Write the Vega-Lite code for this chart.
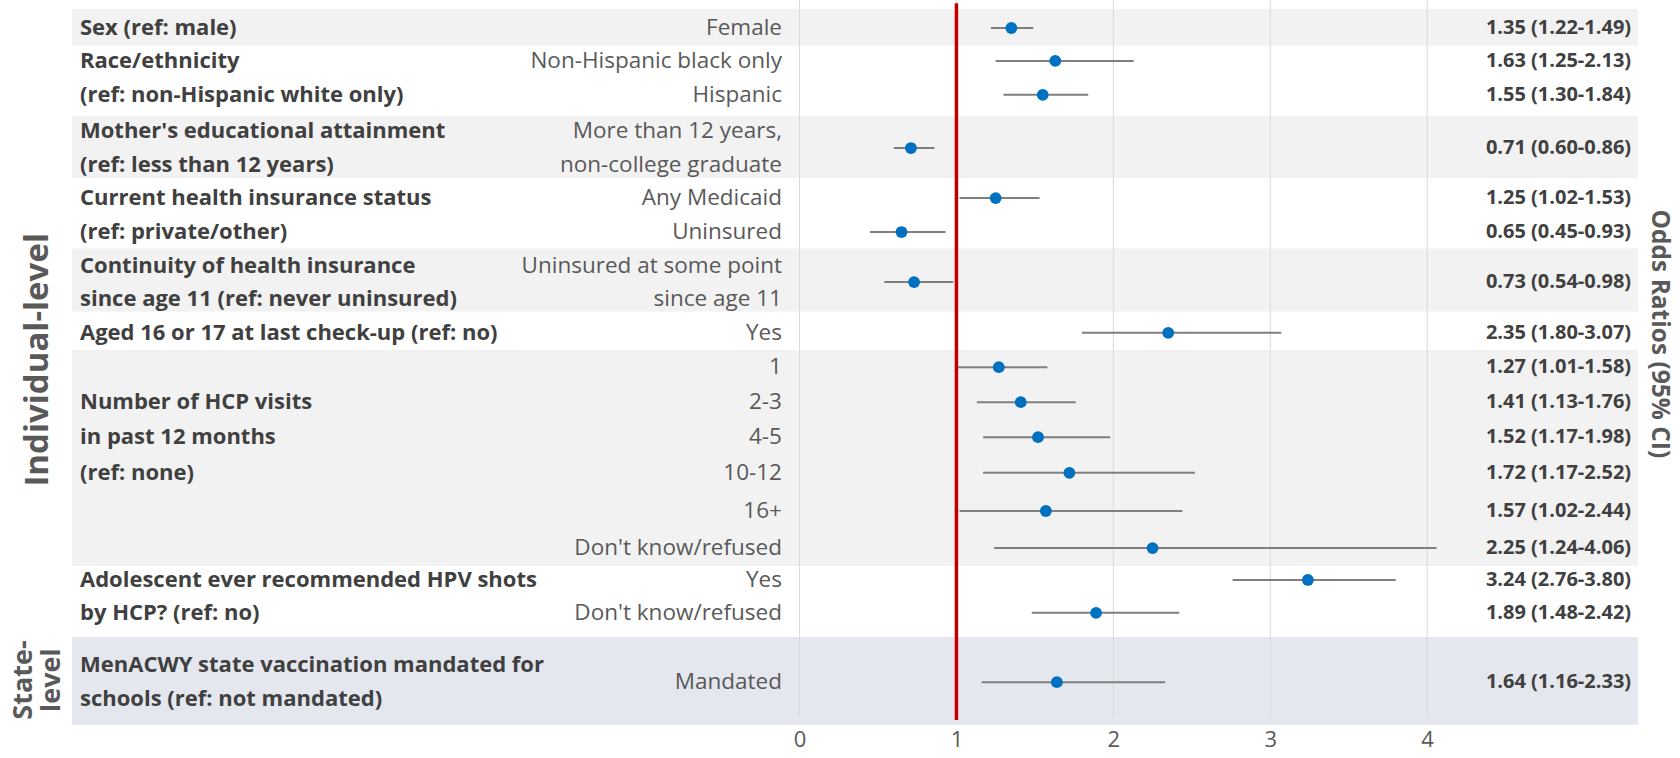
{
  "$schema": "https://vega.github.io/schema/vega-lite/v6.json",
  "width": 1566,
  "height": 725,
  "autosize": {"type": "none"},
  "padding": {"left": 72, "top": 0, "right": 42, "bottom": 33},
  "background": "white",
  "config": {"view": {"stroke": null}, "font": "Open Sans"},
  "datasets": {
    "bands": [
      {"y1": 0.26, "y2": 1.31, "kind": "shaded"},
      {"y1": 1.31, "y2": 3.31, "kind": "plain"},
      {"y1": 3.31, "y2": 5.09, "kind": "shaded"},
      {"y1": 5.09, "y2": 7.09, "kind": "plain"},
      {"y1": 7.09, "y2": 8.91, "kind": "shaded"},
      {"y1": 8.91, "y2": 10.0, "kind": "plain"},
      {"y1": 10.0, "y2": 16.17, "kind": "shaded"},
      {"y1": 16.17, "y2": 18.2, "kind": "plain"},
      {"y1": 18.2, "y2": 20.71, "kind": "state"}
    ],
    "grid": [{"v": 0}, {"v": 1}, {"v": 2}, {"v": 3}, {"v": 4}],
    "items": [
      {"or": 1.35, "lo": 1.22, "hi": 1.49, "row": 0.80, "label": "1.35 (1.22-1.49)"},
      {"or": 1.63, "lo": 1.25, "hi": 2.13, "row": 1.74, "label": "1.63 (1.25-2.13)"},
      {"or": 1.55, "lo": 1.30, "hi": 1.84, "row": 2.71, "label": "1.55 (1.30-1.84)"},
      {"or": 0.71, "lo": 0.60, "hi": 0.86, "row": 4.23, "label": "0.71 (0.60-0.86)"},
      {"or": 1.25, "lo": 1.02, "hi": 1.53, "row": 5.66, "label": "1.25 (1.02-1.53)"},
      {"or": 0.65, "lo": 0.45, "hi": 0.93, "row": 6.63, "label": "0.65 (0.45-0.93)"},
      {"or": 0.73, "lo": 0.54, "hi": 0.98, "row": 8.06, "label": "0.73 (0.54-0.98)"},
      {"or": 2.35, "lo": 1.80, "hi": 3.07, "row": 9.51, "label": "2.35 (1.80-3.07)"},
      {"or": 1.27, "lo": 1.01, "hi": 1.58, "row": 10.49, "label": "1.27 (1.01-1.58)"},
      {"or": 1.41, "lo": 1.13, "hi": 1.76, "row": 11.49, "label": "1.41 (1.13-1.76)"},
      {"or": 1.52, "lo": 1.17, "hi": 1.98, "row": 12.49, "label": "1.52 (1.17-1.98)"},
      {"or": 1.72, "lo": 1.17, "hi": 2.52, "row": 13.51, "label": "1.72 (1.17-2.52)"},
      {"or": 1.57, "lo": 1.02, "hi": 2.44, "row": 14.6, "label": "1.57 (1.02-2.44)"},
      {"or": 2.25, "lo": 1.24, "hi": 4.06, "row": 15.66, "label": "2.25 (1.24-4.06)"},
      {"or": 3.24, "lo": 2.76, "hi": 3.80, "row": 16.57, "label": "3.24 (2.76-3.80)"},
      {"or": 1.89, "lo": 1.48, "hi": 2.42, "row": 17.51, "label": "1.89 (1.48-2.42)"},
      {"or": 1.64, "lo": 1.16, "hi": 2.33, "row": 19.49, "label": "1.64 (1.16-2.33)"}
    ],
    "labels": [
      {"kind": "cat", "text": "Sex (ref: male)", "row": 0.80},
      {"kind": "cat", "text": "Race/ethnicity", "row": 1.74},
      {"kind": "cat", "text": "(ref: non-Hispanic white only)", "row": 2.71},
      {"kind": "cat", "text": "Mother's educational attainment", "row": 3.74},
      {"kind": "cat", "text": "(ref: less than 12 years)", "row": 4.71},
      {"kind": "cat", "text": "Current health insurance status", "row": 5.66},
      {"kind": "cat", "text": "(ref: private/other)", "row": 6.63},
      {"kind": "cat", "text": "Continuity of health insurance", "row": 7.6},
      {"kind": "cat", "text": "since age 11 (ref: never uninsured)", "row": 8.54},
      {"kind": "cat", "text": "Aged 16 or 17 at last check-up (ref: no)", "row": 9.51},
      {"kind": "cat", "text": "Number of HCP visits", "row": 11.49},
      {"kind": "cat", "text": "in past 12 months", "row": 12.49},
      {"kind": "cat", "text": "(ref: none)", "row": 13.51},
      {"kind": "cat", "text": "Adolescent ever recommended HPV shots", "row": 16.57},
      {"kind": "cat", "text": "by HCP? (ref: no)", "row": 17.51},
      {"kind": "cat", "text": "MenACWY state vaccination mandated for", "row": 19.0},
      {"kind": "cat", "text": "schools (ref: not mandated)", "row": 19.97},
      {"kind": "sub", "text": "Female", "row": 0.80},
      {"kind": "sub", "text": "Non-Hispanic black only", "row": 1.74},
      {"kind": "sub", "text": "Hispanic", "row": 2.71},
      {"kind": "sub", "text": "More than 12 years,", "row": 3.74},
      {"kind": "sub", "text": "non-college graduate", "row": 4.71},
      {"kind": "sub", "text": "Any Medicaid", "row": 5.66},
      {"kind": "sub", "text": "Uninsured", "row": 6.63},
      {"kind": "sub", "text": "Uninsured at some point", "row": 7.6},
      {"kind": "sub", "text": "since age 11", "row": 8.54},
      {"kind": "sub", "text": "Yes", "row": 9.51},
      {"kind": "sub", "text": "1", "row": 10.49},
      {"kind": "sub", "text": "2-3", "row": 11.49},
      {"kind": "sub", "text": "4-5", "row": 12.49},
      {"kind": "sub", "text": "10-12", "row": 13.51},
      {"kind": "sub", "text": "16+", "row": 14.6},
      {"kind": "sub", "text": "Don't know/refused", "row": 15.66},
      {"kind": "sub", "text": "Yes", "row": 16.57},
      {"kind": "sub", "text": "Don't know/refused", "row": 17.51},
      {"kind": "sub", "text": "Mandated", "row": 19.49}
    ]
  },
  "layer": [
    {
      "data": {"name": "bands"},
      "mark": {"type": "rect"},
      "encoding": {
        "y": {"field": "y1", "type": "quantitative", "scale": {"domain": [0, 20.714], "reverse": true, "nice": false, "zero": false}, "axis": null},
        "y2": {"field": "y2"},
        "color": {"field": "kind", "type": "nominal", "scale": {"domain": ["shaded", "plain", "state"], "range": ["#f2f2f2", "#ffffff", "#e4e7ee"]}, "legend": null}
      }
    },
    {
      "data": {"name": "grid"},
      "mark": {"type": "rule", "color": "#d9d9d9", "strokeWidth": 1},
      "encoding": {
        "x": {"field": "v", "type": "quantitative", "scale": {"domain": [-4.637, 5.344], "nice": false, "zero": false},
          "axis": {"values": [0, 1, 2, 3, 4], "format": "d", "title": null, "domain": false, "ticks": false, "grid": false, "labelFontSize": 22, "labelColor": "#595959", "labelPadding": 4, "labelFont": "Open Sans"}},
        "y": {"datum": 0},
        "y2": {"datum": 20.45}
      }
    },
    {
      "data": {"values": [{"ref": 1}]},
      "mark": {"type": "rule", "color": "#c00000", "strokeWidth": 3.5},
      "encoding": {
        "x": {"field": "ref", "type": "quantitative"},
        "y": {"datum": 0.09},
        "y2": {"datum": 20.57}
      }
    },
    {
      "data": {"name": "items"},
      "mark": {"type": "rule", "color": "#7f7f7f", "strokeWidth": 2},
      "encoding": {
        "x": {"field": "lo", "type": "quantitative"},
        "x2": {"field": "hi"},
        "y": {"field": "row", "type": "quantitative"}
      }
    },
    {
      "data": {"name": "items"},
      "mark": {"type": "point", "filled": true, "shape": "circle", "size": 140, "color": "#0070c0", "opacity": 1},
      "encoding": {
        "x": {"field": "or", "type": "quantitative"},
        "y": {"field": "row", "type": "quantitative"}
      }
    },
    {
      "data": {"name": "items"},
      "mark": {"type": "text", "align": "right", "baseline": "middle", "fontWeight": "bold", "fontSize": 20, "color": "#404040"},
      "encoding": {
        "x": {"datum": 5.30},
        "y": {"field": "row", "type": "quantitative"},
        "text": {"field": "label"}
      }
    },
    {
      "data": {"name": "labels"},
      "transform": [{"filter": "datum.kind === 'cat'"}],
      "mark": {"type": "text", "align": "left", "baseline": "middle", "fontWeight": "bold", "fontSize": 22, "color": "#404040"},
      "encoding": {
        "x": {"datum": -4.586},
        "y": {"field": "row", "type": "quantitative"},
        "text": {"field": "text"}
      }
    },
    {
      "data": {"name": "labels"},
      "transform": [{"filter": "datum.kind === 'sub'"}],
      "mark": {"type": "text", "align": "right", "baseline": "middle", "fontSize": 22.5, "color": "#595959"},
      "encoding": {
        "x": {"datum": -0.112},
        "y": {"field": "row", "type": "quantitative"},
        "text": {"field": "text"}
      }
    },
    {
      "data": {"values": [{}]},
      "mark": {"type": "text", "align": "center", "baseline": "middle", "angle": 270, "fontWeight": "bold", "fontSize": 33, "color": "#595959", "text": "Individual-level"},
      "encoding": {"x": {"datum": -4.853}, "y": {"datum": 10.28}}
    },
    {
      "data": {"values": [{}]},
      "mark": {"type": "text", "align": "center", "baseline": "middle", "angle": 270, "fontWeight": "bold", "fontSize": 27, "color": "#595959", "text": "State-"},
      "encoding": {"x": {"datum": -4.945}, "y": {"datum": 19.43}}
    },
    {
      "data": {"values": [{}]},
      "mark": {"type": "text", "align": "center", "baseline": "middle", "angle": 270, "fontWeight": "bold", "fontSize": 27, "color": "#595959", "text": "level"},
      "encoding": {"x": {"datum": -4.762}, "y": {"datum": 19.43}}
    },
    {
      "data": {"values": [{}]},
      "mark": {"type": "text", "align": "center", "baseline": "middle", "angle": 90, "fontWeight": "bold", "fontSize": 24.5, "color": "#595959", "text": "Odds Ratios (95% CI)"},
      "encoding": {"x": {"datum": 5.478}, "y": {"datum": 9.54}}
    }
  ]
}
